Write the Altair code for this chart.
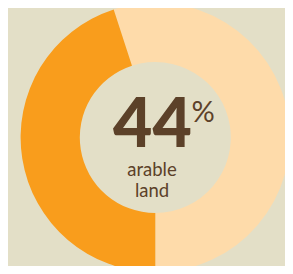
import altair as alt
import pandas as pd
import math

categories = ["other", "arable"]
shares = [55, 45]
colors = ["#FEDBAA", "#F99D1C"]
big_label = "44"
pct_label = "%"
sub_lines = ["arable", "land"]

bg = "#E3DFC7"
txt = "#5C4129"

df = pd.DataFrame({"cat": categories, "share": shares, "order": [0, 1]})

cx, cy = 147.3, 129.5
start = 2 * math.pi - math.radians(18)

donut = alt.Chart(df).mark_arc(outerRadius=134.7, innerRadius=75.5).encode(
    theta=alt.Theta("share:Q", stack=True, scale=alt.Scale(range=[start, start + 2 * math.pi])),
    order=alt.Order("order:Q"),
    color=alt.Color("cat:N", scale=alt.Scale(domain=categories, range=colors), legend=None),
    x=alt.value(cx),
    y=alt.value(cy),
)

tdf = pd.DataFrame({"t": [0]})
base = alt.Chart(tdf)

big = base.mark_text(font="Lato", fontWeight=900, fontSize=68, color=txt,
                     align="right", baseline="alphabetic").encode(
    text=alt.value(big_label), x=alt.value(184), y=alt.value(138.5))
pct = base.mark_text(font="Lato", fontWeight="normal", fontSize=29, color=txt,
                     align="left", baseline="alphabetic").encode(
    text=alt.value(pct_label), x=alt.value(183.5), y=alt.value(113.5))
l1 = base.mark_text(font="Lato", fontSize=18.5, color=txt,
                    align="center", baseline="alphabetic").encode(
    text=alt.value(sub_lines[0]), x=alt.value(144), y=alt.value(167.5))
l2 = base.mark_text(font="Lato", fontSize=18.5, color=txt,
                    align="center", baseline="alphabetic").encode(
    text=alt.value(sub_lines[1]), x=alt.value(144), y=alt.value(188.5))

chart = alt.layer(donut, big, pct, l1, l2).properties(
    width=277, height=258, padding=0, background=bg,
    autosize=alt.AutoSizeParams(type="none"),
).configure_view(stroke=None)

chart.save("out.html", embed_options={"renderer": "svg", "actions": False})
